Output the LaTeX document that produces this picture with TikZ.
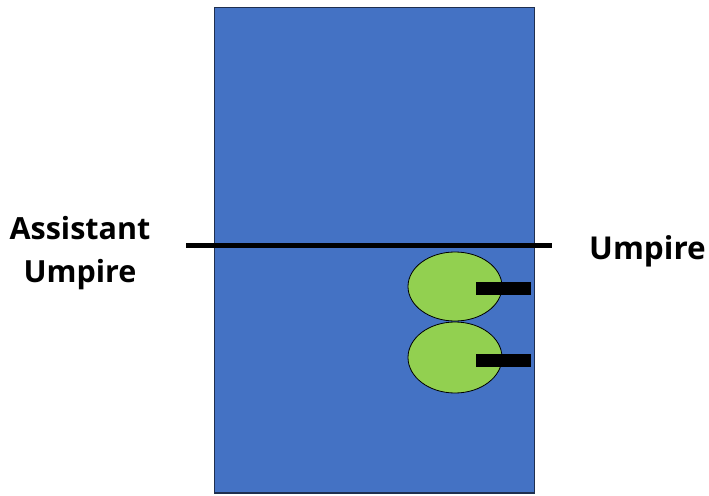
\documentclass[tikz,border=0pt]{standalone}
\usepackage{fontspec}
\setmainfont{Open Sans}
\definecolor{fieldblue}{HTML}{4472C4}
\definecolor{fieldedge}{HTML}{1F2F4F}
\definecolor{ballgreen}{HTML}{92D050}
\begin{document}
\begin{tikzpicture}[x=1pt,y=-1pt,
  field/.style={draw=fieldedge,line width=1.2pt,fill=fieldblue},
  disc/.style={draw=black,line width=0.8pt,fill=ballgreen},
  bar/.style={fill=black},
  lbl/.style={font=\fontsize{30.5}{43}\selectfont\bfseries,inner sep=0pt}]
\useasboundingbox (0,0) rectangle (709,495);
\path[field] (214.5,7.5) rectangle (534.5,493);
\path[disc] (455,286.5) ellipse [x radius=47,y radius=34.5];
\path[disc] (455,357.5) ellipse [x radius=47,y radius=35.5];
\path[bar] (476,282) rectangle (531,295);
\path[bar] (476,354) rectangle (531,367);
\coordinate (lineL) at (186,245.5);
\coordinate (lineR) at (552,245.5);
\draw[line width=4.5pt] (lineL) -- (lineR);
\node[lbl,align=center,anchor=base] (asst) at (80,282) {Assistant\\Umpire};
\node[lbl,anchor=base west,font=\fontsize{31.5}{40}\selectfont\bfseries] (ump) at (589,259) {Umpire};
\end{tikzpicture}
\end{document}
